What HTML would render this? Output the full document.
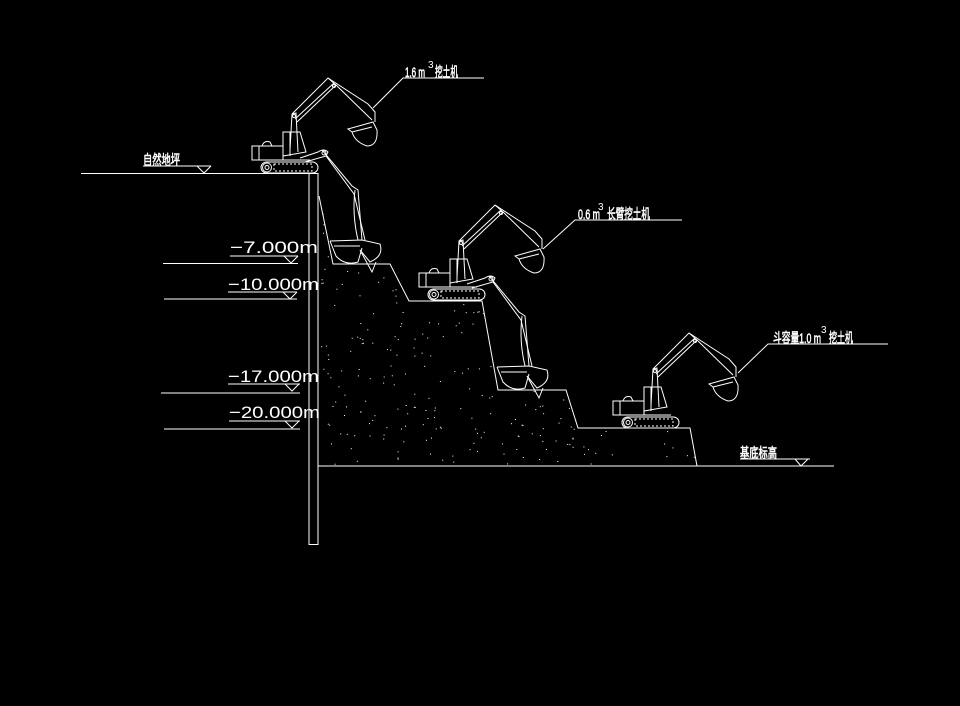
<!DOCTYPE html>
<html><head><meta charset="utf-8"><style>
html,body{margin:0;padding:0;background:#000;}
svg{display:block}
.t{font-family:"Liberation Sans","Noto Sans CJK SC",sans-serif;fill:#fff;}
.c{stroke:#fff;stroke-width:0.6;}
</style></head><body>
<svg id="s" width="960" height="706" viewBox="0 0 960 706" xmlns="http://www.w3.org/2000/svg">
<rect width="960" height="706" fill="#000"/>
<defs>
<g id="exc" fill="none" stroke="#fff" stroke-width="1">
  <rect x="261" y="162" width="57" height="11" rx="5.5"/>
  <circle cx="267" cy="167.5" r="4.5"/><circle cx="267" cy="167.5" r="2"/>
  <rect x="274" y="164" width="38" height="7" stroke-dasharray="2 2"/>
  <rect x="252" y="146" width="31" height="14"/>
  <line x1="259" y1="146" x2="259" y2="160"/>
  <path d="M262 146 Q264 140 270 142 L272 146"/>
  <path d="M283 160 L283 132 L300 132 L306 152 L283 156"/>
  <line x1="290" y1="132" x2="290" y2="156"/>
  <line x1="283" y1="160" x2="310" y2="160"/>
  <path d="M290 150 L292 114 L296 113 L298 152"/>
  <circle cx="294" cy="116" r="1.5"/>
  <path d="M292 114 L328 78 L336 85 L297 122"/>
  <line x1="295" y1="119" x2="334" y2="83"/>
  <circle cx="334" cy="86" r="1.5"/>
  <path d="M328 78 L368 104 L375 112 L375 122"/>
  <path d="M336 85 L372 120"/>
  <path d="M348 129 L373 122 L377 130 Q378 146 367 146 Q355 142 352 132 L348 129 Z"/>
  <line x1="352" y1="132" x2="372" y2="127"/>
</g>
<g id="arm" fill="none" stroke="#fff" stroke-width="1">
  <path d="M300 158 L318 152 Q324 148 328 152 L326 156 L305 162"/>
  <circle cx="324" cy="153" r="2"/>
  <path d="M322 150 L352 186 L358 190 L362 240"/>
  <path d="M326 156 L354 194 L365 240"/>
  <path d="M355 190 Q352 215 358 240"/>
  <path d="M330 241 L362 240 L380 244 Q384 256 370 262 L360 250"/>
  <path d="M330 241 L336 256 Q345 266 358 262 L362 248"/>
  <path d="M360 250 L372 272 L376 262"/>
  <path d="M334 246 L360 246"/>
</g>
</defs>
<g stroke="#fff" stroke-width="1" fill="none">
  <rect x="309" y="173.5" width="9" height="371"/>
  <line x1="81" y1="173.5" x2="318" y2="173.5"/>
  <polyline points="319,196 333,264 390,264 409,301 482,301 498,390 566,390 578,428 690,428 697,466"/>
  <line x1="318" y1="466" x2="834" y2="466"/>
  <line x1="143" y1="166" x2="211" y2="166"/>
  <path d="M197 166 L204 173 L211 166"/>
  <line x1="740" y1="459" x2="810" y2="459"/>
  <path d="M795 459 L801 466 L808 459"/>
  <line x1="230" y1="256" x2="298" y2="256"/><path d="M284 256 L291 263 L298 256"/><line x1="163" y1="263.5" x2="298" y2="263.5"/>
  <line x1="228" y1="292" x2="297" y2="292"/><path d="M283 292 L290 299 L297 292"/><line x1="164" y1="299" x2="297" y2="299"/>
  <line x1="228" y1="384" x2="300" y2="384"/><path d="M285 384 L292 391 L299 384"/><line x1="161" y1="393" x2="300" y2="393"/>
  <line x1="229" y1="421" x2="300" y2="421"/><path d="M285 421 L292 428 L299 421"/><line x1="164" y1="429" x2="300" y2="429"/>
  <polyline points="484,78 403,78 373,108"/>
  <polyline points="682,220 575,220 543,249"/>
  <polyline points="888,344 768,344 738,373"/>
</g>
<use href="#exc"/>
<use href="#arm"/>
<use href="#exc" transform="translate(167,127)"/>
<use href="#arm" transform="translate(167,126)"/>
<use href="#exc" transform="translate(361,255)"/>
<g id="dots" fill="#fff"></g>
<g class="t">
  <text class="c" x="143" y="165" font-size="14" textLength="37" lengthAdjust="spacingAndGlyphs">自然地坪</text>
  <text class="c" x="740" y="458" font-size="14" textLength="37" lengthAdjust="spacingAndGlyphs">基底标高</text>
  <text x="230" y="253" font-size="17" textLength="88" lengthAdjust="spacingAndGlyphs">−7.000m</text>
  <text x="228" y="290" font-size="17" textLength="91" lengthAdjust="spacingAndGlyphs">−10.000m</text>
  <text x="228" y="382" font-size="17" textLength="91" lengthAdjust="spacingAndGlyphs">−17.000m</text>
  <text x="229" y="418" font-size="17" textLength="91" lengthAdjust="spacingAndGlyphs">−20.000m</text>
  <text class="c" x="405" y="77" font-size="14" textLength="20" lengthAdjust="spacingAndGlyphs">1.6 m</text>
  <text x="428" y="68" font-size="10">3</text>
  <text class="c" x="435" y="77" font-size="14" textLength="23" lengthAdjust="spacingAndGlyphs">挖土机</text>
  <text class="c" x="578" y="219" font-size="14" textLength="22" lengthAdjust="spacingAndGlyphs">0.6 m</text>
  <text x="598" y="210" font-size="10">3</text>
  <text class="c" x="607" y="219" font-size="14" textLength="43" lengthAdjust="spacingAndGlyphs">长臂挖土机</text>
  <text class="c" x="773" y="343" font-size="14" textLength="48" lengthAdjust="spacingAndGlyphs">斗容量1.0 m</text>
  <text x="821" y="333" font-size="10">3</text>
  <text class="c" x="829" y="343" font-size="14" textLength="24" lengthAdjust="spacingAndGlyphs">挖土机</text>
</g>
</svg>
<script>
(function(){
var P=[[319,196],[333,264],[390,264],[409,301],[482,301],[498,390],[566,390],[578,428],[690,428],[697,466],[318,466]];
function inside(x,y){var c=false;for(var i=0,j=P.length-1;i<P.length;j=i++){var a=P[i],b=P[j];if(((a[1]>y)!=(b[1]>y))&&(x<(b[0]-a[0])*(y-a[1])/(b[1]-a[1])+a[0]))c=!c;}return c;}
var s=12345;function r(){s=(s*1103515245+12345)%2147483648;return s/2147483648;}
var g=document.getElementById('dots'),h='';
for(var n=0;n<520;n++){var x=318+r()*380,y=196+r()*270;if(inside(x,y)&&x>321&&y<464){h+='<rect x="'+x.toFixed(1)+'" y="'+y.toFixed(1)+'" width="1" height="1"/>';}}
g.innerHTML=h;
})();
</script>
</body></html>
